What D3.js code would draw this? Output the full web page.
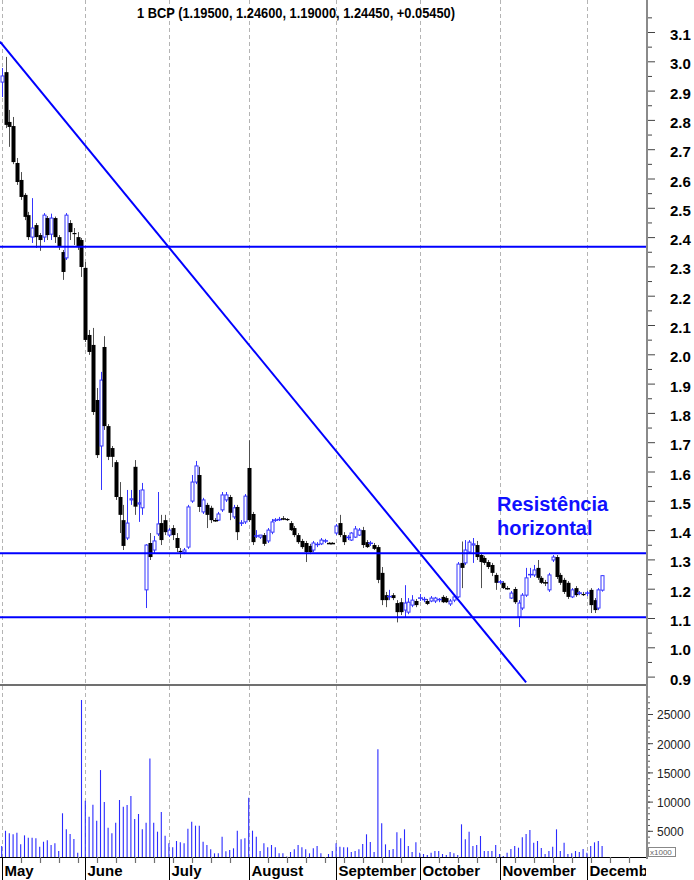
<!DOCTYPE html>
<html><head><meta charset="utf-8">
<script src="https://cdn.jsdelivr.net/npm/d3@7"></script>
<style>body{margin:0;background:#fff}svg{display:block;font-family:"Liberation Sans",Arial,sans-serif}</style>
</head><body>
<svg id="c" width="694" height="880"></svg>
<script>
const title = "1 BCP (1.19500, 1.24600, 1.19000, 1.24450, +0.05450)";
const months = ["May","June","July","August","September","October","November","December"];
const monthStart = [0,22,44,65,88,110,131,154];

const open = [
2.929,2.963,2.793,2.779,2.653,2.595,2.544,2.475,2.400,2.441,2.407,2.400,2.465,2.410,2.465,2.400,2.349,2.329,2.448,2.414,2.400,2.390,
2.295,2.066,2.032,1.844,1.687,2.025,1.755,1.680,1.632,1.513,1.434,1.373,1.503,1.616,1.489,1.476,1.196,1.356,1.332,1.387,1.424,1.434,
1.383,1.407,1.373,1.329,1.325,1.342,1.499,1.564,1.588,1.462,1.486,1.476,1.434,1.434,1.469,1.503,1.513,1.445,1.479,1.421,1.428,
1.612,1.455,1.378,1.376,1.383,1.363,1.393,1.433,1.434,1.441,1.438,1.424,1.407,1.383,1.363,1.356,1.346,1.332,1.349,1.353,1.361,1.356,1.356,
1.390,1.424,1.383,1.373,1.366,1.376,1.383,1.400,1.359,1.353,1.349,1.342,1.254,1.178,1.172,1.178,1.151,1.154,1.127,1.120,1.144,1.158,
1.165,1.161,1.158,1.158,1.158,1.161,1.172,1.168,1.148,1.161,1.172,1.288,1.288,1.325,1.349,1.349,1.315,1.305,1.291,1.281,1.247,
1.221,1.220,1.202,1.168,1.199,1.103,1.134,1.178,1.247,1.247,1.271,1.237,1.223,1.196,1.298,1.308,1.247,1.230,1.220,1.172,1.202,1.183,1.182,
1.182,1.196,1.161,1.134,1.195];
const high = [
2.977,3.015,2.834,2.810,2.670,2.622,2.550,2.486,2.533,2.448,2.414,2.482,2.472,2.480,2.470,2.407,2.356,2.482,2.458,2.431,2.417,2.397,
2.315,2.083,2.090,1.885,1.940,2.062,1.762,1.687,1.639,1.564,1.486,1.537,1.537,1.639,1.537,1.561,1.352,1.390,1.380,1.530,1.452,1.452,
1.407,1.417,1.390,1.339,1.339,1.486,1.588,1.636,1.616,1.510,1.493,1.483,1.441,1.462,1.530,1.530,1.520,1.486,1.486,1.434,1.523,
1.707,1.462,1.400,1.383,1.390,1.407,1.438,1.441,1.445,1.448,1.441,1.431,1.414,1.390,1.370,1.363,1.353,1.363,1.359,1.373,1.370,1.359,1.359,
1.421,1.452,1.393,1.383,1.393,1.414,1.407,1.411,1.366,1.363,1.356,1.349,1.274,1.189,1.196,1.185,1.161,1.168,1.212,1.168,1.178,1.165,
1.182,1.172,1.165,1.175,1.172,1.168,1.178,1.175,1.165,1.182,1.291,1.361,1.366,1.366,1.373,1.363,1.322,1.312,1.298,1.288,1.254,
1.230,1.226,1.209,1.192,1.206,1.161,1.185,1.271,1.271,1.281,1.298,1.243,1.230,1.254,1.315,1.315,1.254,1.237,1.226,1.202,1.209,1.192,1.189,
1.192,1.202,1.168,1.202,1.246];
const low = [
2.878,2.772,2.708,2.649,2.578,2.527,2.458,2.390,2.380,2.363,2.353,2.383,2.390,2.390,2.380,2.356,2.254,2.322,2.390,2.373,2.356,2.264,
2.042,1.998,1.793,1.646,1.537,1.742,1.639,1.615,1.503,1.390,1.332,1.366,1.486,1.452,1.428,1.452,1.134,1.298,1.322,1.380,1.349,1.383,
1.376,1.366,1.325,1.305,1.318,1.336,1.493,1.557,1.462,1.455,1.407,1.424,1.428,1.431,1.462,1.496,1.434,1.438,1.366,1.414,1.421,
1.428,1.349,1.373,1.370,1.346,1.356,1.386,1.428,1.431,1.434,1.431,1.397,1.376,1.353,1.336,1.291,1.318,1.325,1.342,1.349,1.356,1.353,1.353,
1.383,1.376,1.349,1.366,1.363,1.373,1.380,1.339,1.339,1.346,1.332,1.219,1.144,1.137,1.161,1.161,1.085,1.110,1.100,1.113,1.137,1.137,
1.158,1.154,1.144,1.154,1.151,1.154,1.151,1.151,1.141,1.154,1.168,1.202,1.281,1.322,1.288,1.298,1.202,1.281,1.267,1.243,1.196,
1.216,1.199,1.196,1.165,1.148,1.069,1.127,1.172,1.237,1.240,1.230,1.216,1.209,1.189,1.291,1.233,1.213,1.182,1.165,1.168,1.172,1.178,1.175,
1.175,1.117,1.117,1.127,1.190];
const close = [
2.950,2.783,2.776,2.656,2.588,2.537,2.469,2.400,2.431,2.400,2.390,2.475,2.407,2.465,2.400,2.366,2.281,2.475,2.417,2.410,2.366,2.298,
2.049,2.008,1.803,1.656,1.912,1.755,1.650,1.650,1.513,1.452,1.346,1.424,1.507,1.480,1.493,1.537,1.349,1.308,1.363,1.421,1.366,1.393,
1.400,1.383,1.339,1.325,1.332,1.479,1.564,1.619,1.479,1.503,1.452,1.434,1.432,1.455,1.520,1.520,1.459,1.476,1.393,1.424,1.516,
1.434,1.359,1.380,1.383,1.353,1.400,1.428,1.434,1.436,1.438,1.434,1.400,1.383,1.359,1.342,1.325,1.325,1.356,1.351,1.366,1.363,1.354,1.354,
1.414,1.383,1.359,1.375,1.390,1.404,1.400,1.349,1.342,1.355,1.336,1.230,1.161,1.161,1.173,1.168,1.120,1.120,1.151,1.154,1.161,1.144,
1.168,1.163,1.148,1.168,1.168,1.163,1.154,1.154,1.158,1.172,1.284,1.271,1.332,1.359,1.353,1.308,1.291,1.288,1.274,1.254,1.220,
1.223,1.202,1.200,1.185,1.154,1.151,1.178,1.237,1.248,1.264,1.237,1.220,1.220,1.247,1.308,1.240,1.220,1.189,1.172,1.196,1.178,1.185,1.178,
1.185,1.144,1.127,1.196,1.2445];
const volume = [
2400,5000,4570,4400,4670,2680,4220,3820,3820,3710,2280,3130,3370,2570,2850,1540,8000,5250,4450,3600,1250,27400,
10150,7400,9470,6730,15400,9930,5530,4570,6390,10270,9130,9420,10960,7020,7880,5250,6390,17400,6390,4850,8220,4170,
2850,2170,3250,3020,2850,5360,6560,5880,5880,3130,2570,1830,1140,1140,3990,1490,1710,2000,5020,3540,3710,
10670,5020,3990,1540,2850,2170,2570,2170,1140,1140,600,1370,1830,2570,2170,1830,1140,2000,2400,1140,500,1030,1540,
2850,2280,2170,2170,1370,1540,1830,2740,4400,3080,1370,18950,6280,2680,1710,1880,4740,3710,5250,2400,1370,3020,
1250,1030,860,1250,1540,1540,1030,860,1370,1140,860,6110,3540,4850,2400,2570,4110,1540,1540,1540,2570,
1030,690,1250,1880,2400,2110,3880,4450,5140,2960,3250,2050,1030,1540,2280,5250,1540,2960,1030,1140,1540,1370,1880,
1250,2400,3020,3250,2400];

const levels = [2.367, 1.321, 1.1025];
const trendI = [-0.45, 138];
const trendV = [3.067, 0.88];
const priceTicks = d3.range(9, 32).map(d => d / 10);
const priceMinor = d3.range(9, 33).map(d => (d * 2 - 1) / 20).filter(d => d >= 0.9);
const volTicks = [5000, 10000, 15000, 20000, 25000];
const volMinor = d3.range(1, 29).map(d => d * 1000);
const annotation = ["Resistência", "horizontal"];

const svg = d3.select("#c");
const axisX = 647, priceBottom = 685, volBottom = 857;
const n = close.length;
const x = d3.scaleLinear().domain([0, 158]).range([1.7, 1.7 + 3.8 * 158]);
const yP = d3.scaleLinear().domain([0.9, 3.1]).range([676.6, 32]);
const yV = d3.scaleLinear().domain([0, 25000]).range([860, 714]);
const BLUE = "#0000ff", CBLUE = "#3535ff";

const defs = svg.append("defs");
defs.append("clipPath").attr("id","cp").append("rect").attr("x",0).attr("y",0).attr("width",axisX-1).attr("height",priceBottom);
defs.append("clipPath").attr("id","cv").append("rect").attr("x",0).attr("y",priceBottom+1).attr("width",axisX-1).attr("height",volBottom-priceBottom-1);
defs.append("clipPath").attr("id","cm").append("rect").attr("x",0).attr("y",volBottom).attr("width",axisX-1).attr("height",30);

// gridlines
svg.append("g").selectAll("line").data(monthStart).join("line")
  .attr("x1", d => Math.round(x(d)) + 0.5).attr("x2", d => Math.round(x(d)) + 0.5)
  .attr("y1", 0).attr("y2", volBottom)
  .attr("stroke", "#b4b4b4").attr("stroke-dasharray", "4,3").attr("stroke-width", 1);

// title
svg.append("text").attr("x", 137).attr("y", 17.5).attr("font-size", 14.5).attr("font-weight", "bold")
  .attr("textLength", 318).attr("lengthAdjust", "spacingAndGlyphs").attr("fill", "#000").text(title);

// price panel
const gp = svg.append("g").attr("clip-path", "url(#cp)");
const idx = d3.range(n);
const cx = i => Math.round(x(i)) + 0.5;
gp.append("g").selectAll("line").data(idx).join("line")
  .attr("x1", cx).attr("x2", cx)
  .attr("y1", i => yP(high[i])).attr("y2", i => yP(low[i]))
  .attr("stroke", i => close[i] >= open[i] ? CBLUE : "#505050").attr("stroke-width", 1);
gp.append("g").selectAll("rect").data(idx.filter(i => Math.abs(close[i] - open[i]) >= 0.004)).join("rect")
  .attr("x", i => close[i] >= open[i] ? cx(i) - 1.5 : cx(i) - 2)
  .attr("width", i => close[i] >= open[i] ? 3 : 4)
  .attr("y", i => yP(Math.max(open[i], close[i])))
  .attr("height", i => Math.abs(yP(open[i]) - yP(close[i])))
  .attr("fill", i => close[i] >= open[i] ? "#fff" : "#000")
  .attr("stroke", i => close[i] >= open[i] ? CBLUE : "none").attr("stroke-width", 1);
gp.append("g").selectAll("line").data(idx.filter(i => Math.abs(close[i] - open[i]) < 0.004)).join("line")
  .attr("x1", i => cx(i) - 2.5).attr("x2", i => cx(i) + 2.5)
  .attr("y1", i => yP(close[i])).attr("y2", i => yP(close[i]))
  .attr("stroke", i => close[i] >= open[i] ? CBLUE : "#000").attr("stroke-width", 1.5);

// lines
gp.append("g").selectAll("line").data(levels).join("line")
  .attr("x1", 0).attr("x2", axisX).attr("y1", d => yP(d)).attr("y2", d => yP(d))
  .attr("stroke", BLUE).attr("stroke-width", 2);
gp.append("line").attr("x1", x(trendI[0])).attr("x2", x(trendI[1]))
  .attr("y1", yP(trendV[0])).attr("y2", yP(trendV[1]))
  .attr("stroke", BLUE).attr("stroke-width", 2);

// annotation
svg.append("g").selectAll("text").data(annotation).join("text")
  .attr("x", 497).attr("y", (d, k) => 511 + k * 24)
  .attr("font-size", 20).attr("font-weight", "bold").attr("fill", "#1010ff").text(d => d);

// separator
svg.append("line").attr("x1", 0).attr("x2", axisX).attr("y1", priceBottom).attr("y2", priceBottom)
  .attr("stroke", "#404040").attr("stroke-width", 1.5);

// volume bars
svg.append("g").attr("clip-path", "url(#cv)").selectAll("line").data(idx).join("line")
  .attr("x1", i => x(i)).attr("x2", i => x(i))
  .attr("y1", volBottom).attr("y2", i => yV(volume[i]))
  .attr("stroke", "#2a2aff").attr("stroke-width", 1.1);

// bottom axis line
svg.append("line").attr("x1", 0).attr("x2", axisX).attr("y1", volBottom + 0.5).attr("y2", volBottom + 0.5)
  .attr("stroke", "#000").attr("stroke-width", 1);
// weekly ticks
const weekly = d3.range(5, 171, 5).filter(i => !monthStart.includes(i) && x(i) < axisX - 2);
svg.append("g").selectAll("line").data(weekly).join("line")
  .attr("x1", cx).attr("x2", cx).attr("y1", volBottom).attr("y2", volBottom + 6)
  .attr("stroke", "#707070").attr("stroke-width", 1.2);
svg.append("g").selectAll("line").data(monthStart).join("line")
  .attr("x1", d => Math.round(x(d)) + 0.5).attr("x2", d => Math.round(x(d)) + 0.5)
  .attr("y1", volBottom).attr("y2", 880).attr("stroke", "#000").attr("stroke-width", 1);
svg.append("g").attr("clip-path", "url(#cm)").selectAll("text").data(months).join("text")
  .attr("x", (d, k) => Math.round(x(monthStart[k])) + 2.5).attr("y", 876)
  .attr("font-size", 15).attr("font-weight", "bold").attr("fill", "#000").text(d => d);

// price axis
const pa = svg.append("g").attr("transform", `translate(${axisX},0)`);
pa.call(d3.axisRight(yP).tickValues(priceMinor).tickSize(5).tickFormat(""));
pa.call(g => g.select(".domain").remove());
const pa2 = svg.append("g").attr("transform", `translate(${axisX},0)`);
pa2.call(d3.axisRight(yP).tickValues(priceTicks).tickSize(8).tickPadding(15).tickFormat(d3.format(".1f")));
pa2.select(".domain").remove();
pa2.selectAll("text").attr("font-size", 15).attr("font-weight", "bold").attr("fill", "#000")
  .attr("font-family", '"Liberation Sans",Arial,sans-serif').attr("dy", "0.5em");
svg.selectAll(".tick line").attr("stroke", "#444");

// volume axis
const va = svg.append("g").attr("transform", `translate(${axisX},0)`);
va.call(d3.axisRight(yV).tickValues(volMinor).tickSize(3).tickFormat(""));
va.select(".domain").remove();
const va2 = svg.append("g").attr("transform", `translate(${axisX},0)`);
va2.call(d3.axisRight(yV).tickValues(volTicks).tickSize(6).tickPadding(4).tickFormat(d3.format("d")));
va2.select(".domain").remove();
va2.selectAll("text").attr("font-size", 12).attr("fill", "#222")
  .attr("font-family", '"Liberation Sans",Arial,sans-serif').attr("dy", "0.4em");
va.selectAll(".tick line").attr("stroke", "#555");
va2.selectAll(".tick line").attr("stroke", "#444");

// axis line
svg.append("line").attr("x1", axisX).attr("x2", axisX).attr("y1", 0).attr("y2", volBottom + 2)
  .attr("stroke", "#8a8a8a").attr("stroke-width", 2);

// x1000 box
svg.append("rect").attr("x", 648.5).attr("y", 847.5).attr("width", 27).attr("height", 9)
  .attr("fill", "#fff").attr("stroke", "#888").attr("stroke-width", 1);
svg.append("text").attr("x", 650).attr("y", 855).attr("font-size", 8).attr("fill", "#666").text("x1000");
</script>
</body></html>
